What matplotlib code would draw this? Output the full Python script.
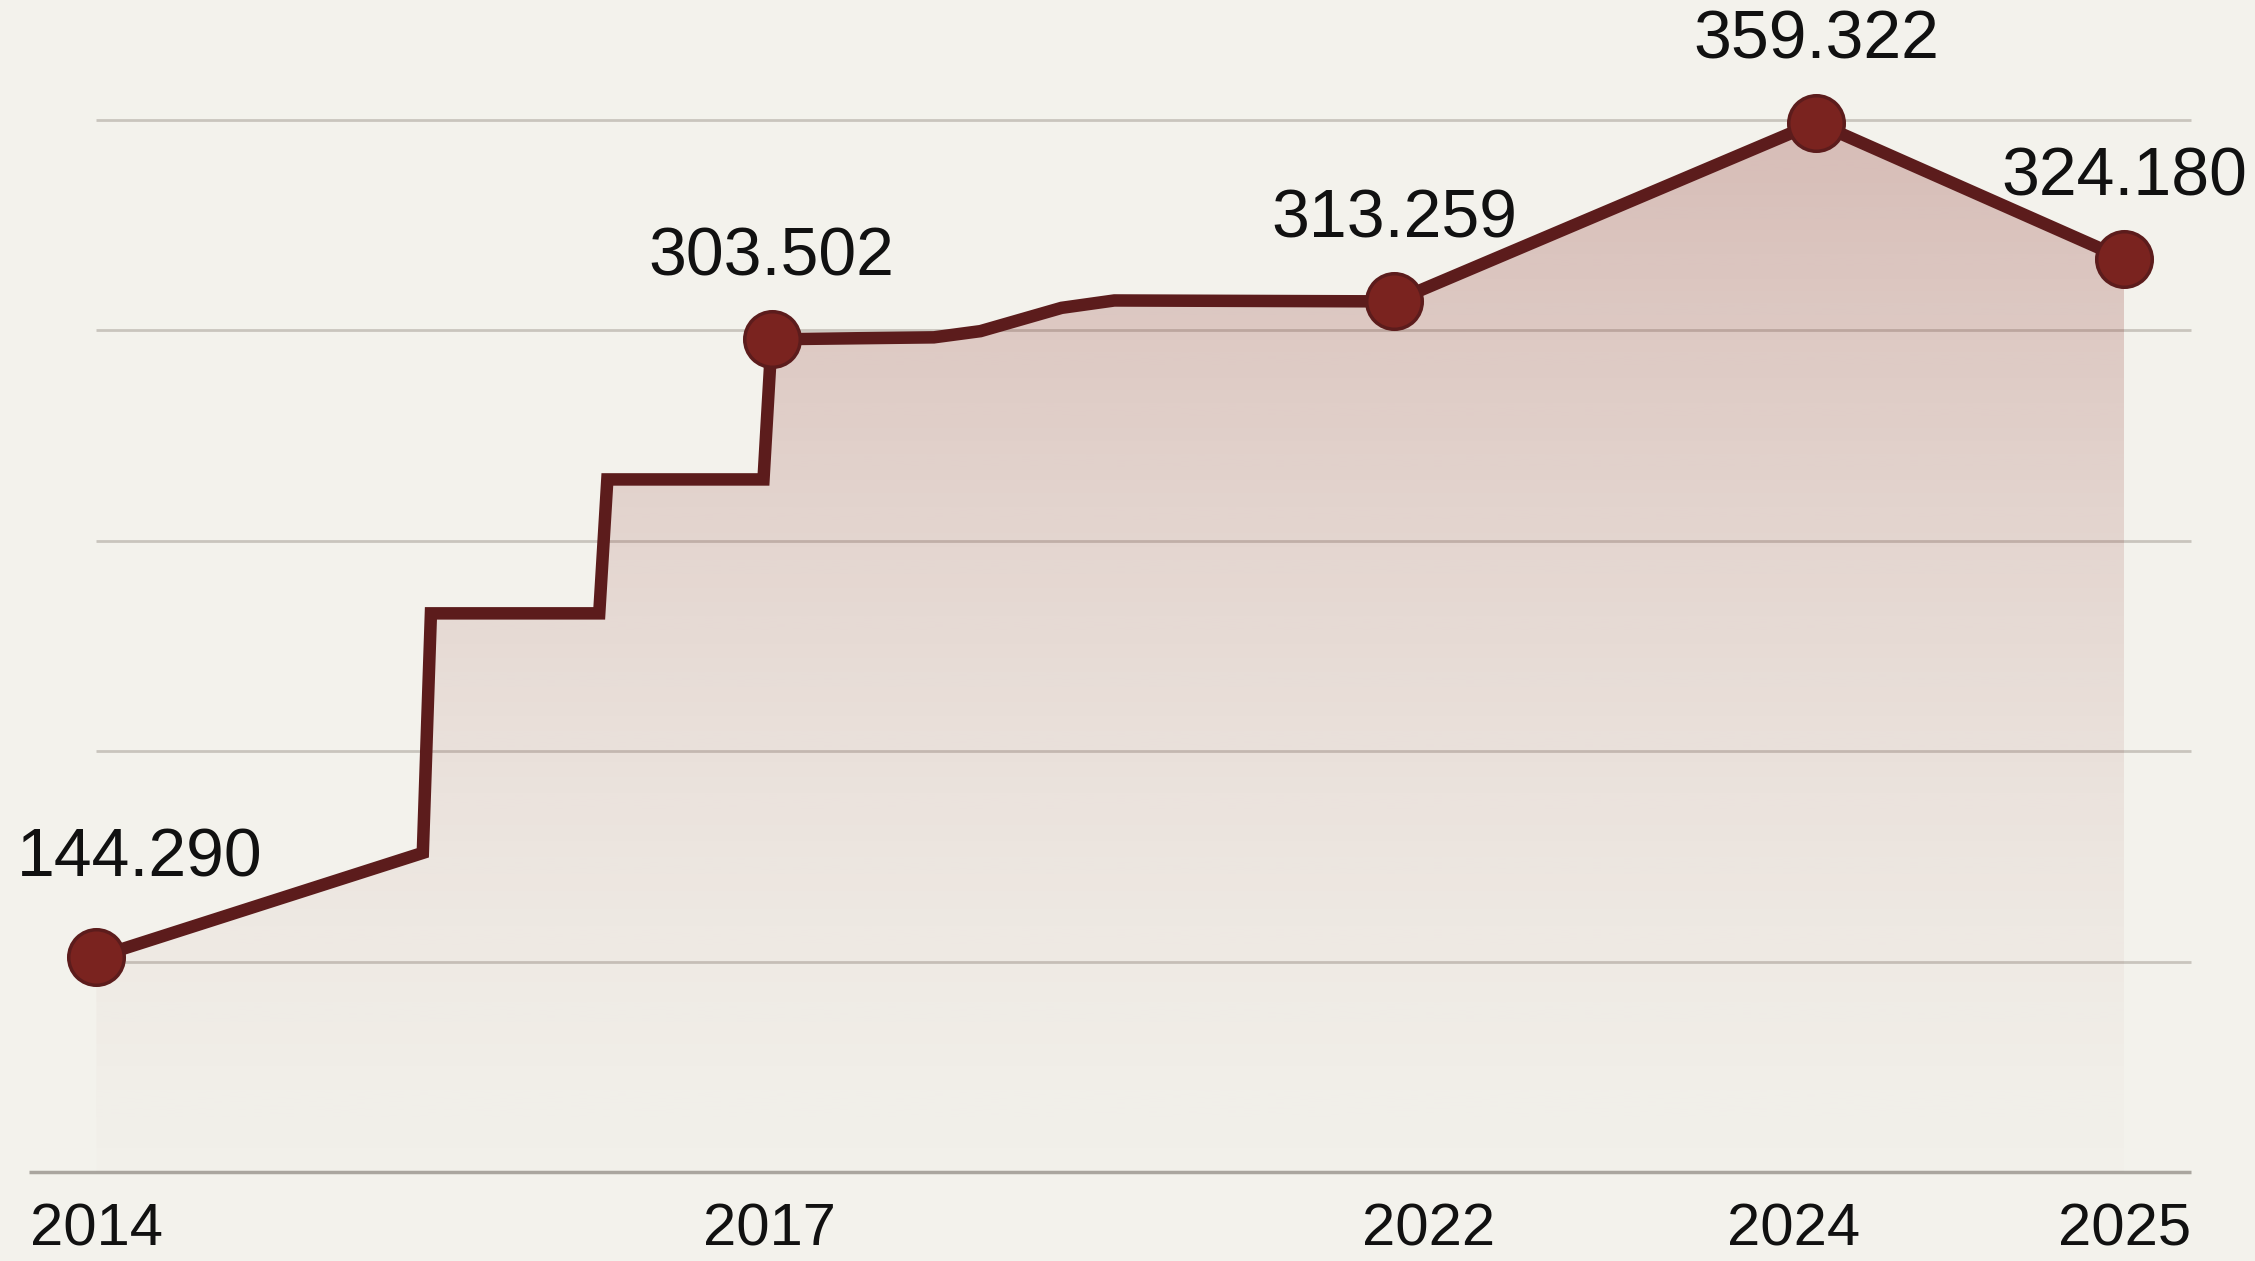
import numpy as np
import matplotlib.pyplot as plt
from matplotlib.patches import Polygon

# path of the line: position along the timeline (0 = 2014, 100 = 2025) and value
path_t = [0, 16.1, 16.5, 24.8, 25.2, 32.9, 33.3, 41.3, 43.6, 47.6, 50.2, 64.0, 84.8, 100]
path_v = [144.290, 171.2, 232.9, 232.9, 267.4, 267.4, 303.502, 304.0, 305.6, 311.6, 313.5, 313.259, 359.322, 324.180]

# labelled points
point_t = [0, 33.3, 64.0, 84.8, 100]
point_v = [144.290, 303.502, 313.259, 359.322, 324.180]
point_labels = ['144.290', '303.502', '313.259', '359.322', '324.180']

years = ['2014', '2017', '2022', '2024', '2025']
year_t = [0, 33.2, 65.7, 83.7, 100]

bg = '#f3f2ec'
maroon = '#5c1c1c'
plt.rcParams['font.family'] = ['Liberation Sans', 'DejaVu Sans']

fig = plt.figure(figsize=(22.55, 12.61), dpi=100, facecolor=bg)
ax = fig.add_axes([0, 0.0706, 1, 0.9294])
ax.set_facecolor(bg)
ax.set_xlim(-4.75, 106.45)
ax.set_ylim(89, 390.9)

# grid lines
for g in np.linspace(89, 360, 6)[1:]:
    ax.hlines(g, 0, 103.3, color='#c9c5bd', lw=2, zorder=1)
ax.hlines(89, -3.3, 103.3, color='#aaa69f', lw=2.5, zorder=1, clip_on=False)

# gradient fill under the line
verts = list(zip(path_t, path_v)) + [(path_t[-1], 89), (path_t[0], 89)]
poly = Polygon(verts, closed=True, facecolor='none', edgecolor='none')
ax.add_patch(poly)
grad = np.linspace(0, 1, 256)[:, None] ** 1.3
img = np.zeros((256, 1, 4))
img[..., 0] = 0.56
img[..., 1] = 0.2
img[..., 2] = 0.18
img[..., 3] = 0.01 + 0.28 * grad
im = ax.imshow(img, extent=(0, 100, 89, 365), origin='lower', aspect='auto', zorder=2, interpolation='bilinear')
im.set_clip_path(poly)

ax.plot(path_t, path_v, color=maroon, lw=9, solid_joinstyle='miter', zorder=3)
ax.plot(point_t, point_v, 'o', ms=40, mfc='#7a231f', mec=maroon, mew=2.5, zorder=4)

for i, (t, v, s) in enumerate(zip(point_t, point_v, point_labels)):
    off = (31, 71) if i == 0 else (0, 59)
    ax.annotate(s, (t, v), xytext=off, textcoords='offset points', ha='center', va='center',
                fontsize=49, color='#111111', zorder=5)

ax.set_xticks(year_t, years)
ax.tick_params(axis='x', length=0, pad=22, labelsize=43, labelcolor='#111111')
ax.set_yticks([])
for s in ax.spines.values():
    s.set_visible(False)

plt.savefig('out.png', dpi=100, facecolor=bg)
